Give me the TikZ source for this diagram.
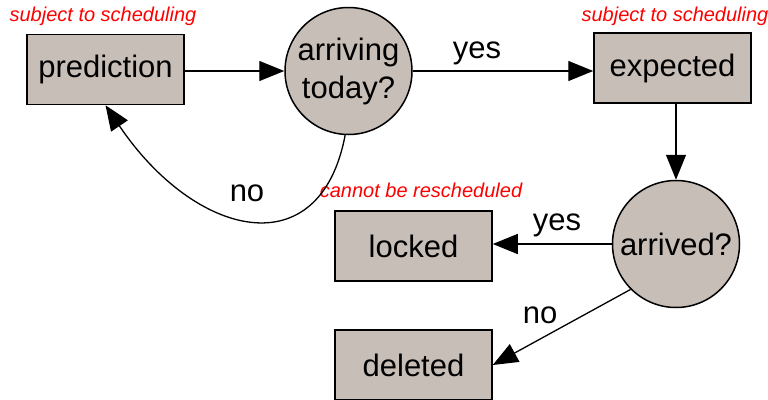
\documentclass[tikz,border=0pt]{standalone}
\usepackage{fontspec}
\setmainfont{Liberation Sans}
\usetikzlibrary{arrows.meta}
\definecolor{boxfill}{RGB}{200,190,184}
\definecolor{notered}{RGB}{255,0,0}
\tikzset{
  statebox/.style={draw=black, line width=1.5pt, fill=boxfill, minimum width=157pt, minimum height=70pt, inner sep=0pt, font=\fontsize{31}{38}\selectfont},
  decision/.style={draw=black, line width=1.5pt, fill=boxfill, circle, minimum size=127pt, inner sep=0pt, align=center, font=\fontsize{31}{38}\selectfont},
  flow/.style={line width=1.3pt, -{Triangle[length=25pt,width=20pt]}},
  lbl/.style={font=\fontsize{31}{38}\selectfont, inner sep=0pt},
  note/.style={text=notered, font=\fontsize{20}{24}\selectfont\itshape, inner sep=0pt}
}
\begin{document}
\begin{tikzpicture}[x=1pt,y=-1pt]
\useasboundingbox (0,0) rectangle (768,399);
\node[statebox] (pred) at (105.5,69.5) {prediction};
\node[decision] (arr) at (348.5,71) {arriving\\today?};
\node[statebox] (exp) at (672.5,68) {expected};
\node[decision] (arrived) at (676,244) {arrived?};
\node[statebox] (lock) at (413.5,246) {locked};
\node[statebox] (del) at (413.5,365) {deleted};

\node[note] (n1) at (103,16) {subject to scheduling};
\node[note] (n2) at (675,16) {subject to scheduling};
\node[note] (n3) at (421,190) {cannot be rescheduled};

\draw[flow] (pred.east |- arr.west) -- (arr.west);
\draw[flow] (arr.east) -- (arr.east -| exp.west);
\draw[flow] (exp.south -| arrived.north) -- (arrived.north);
\draw[flow] (arrived.west) -- (arrived.west -| lock.east);
\draw[flow] (arrived.225) -- (del.east);
\draw[flow] (arr.267) .. controls (320,268) and (195,238) .. (pred.south);

\node[lbl] (l1) at (477,53) {yes};
\node[lbl] (l2) at (247,193) {no};
\node[lbl] (l3) at (557,225) {yes};
\node[lbl] (l4) at (540,315) {no};
\end{tikzpicture}
\end{document}
